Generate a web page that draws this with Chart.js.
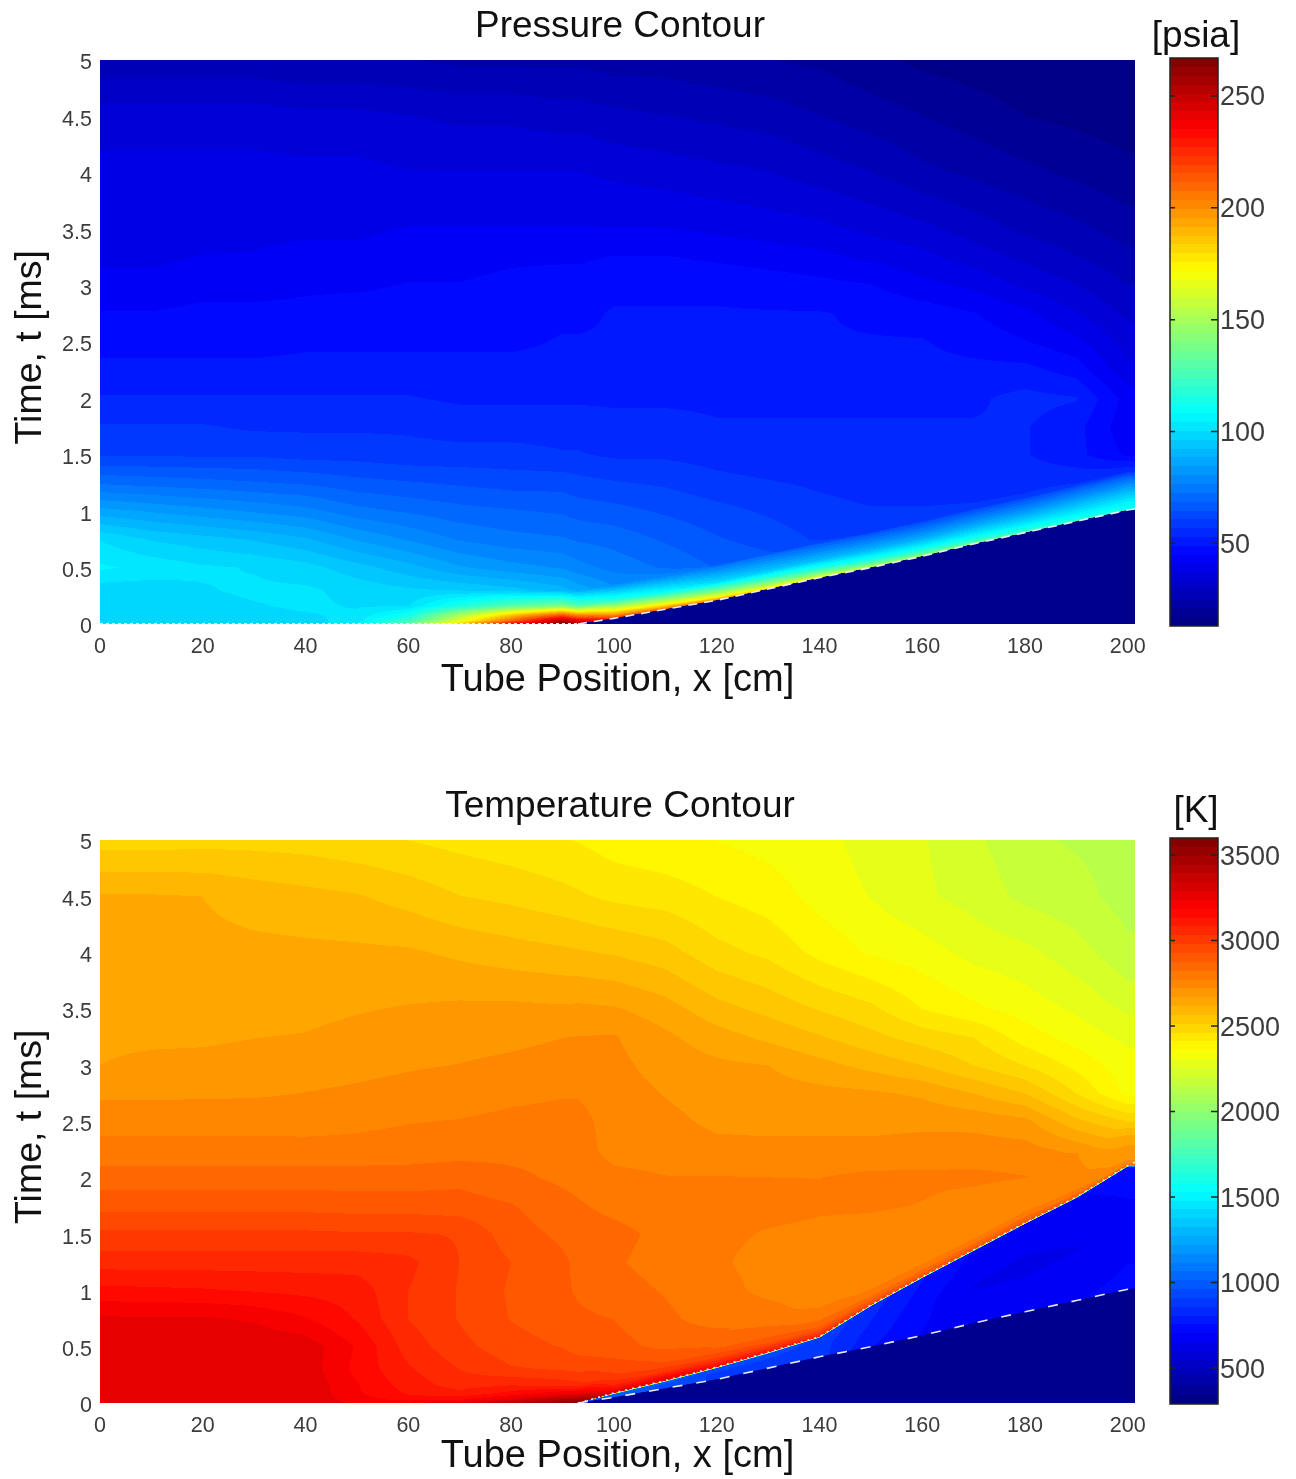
<!DOCTYPE html>
<html><head><meta charset="utf-8">
<style>
html,body{margin:0;padding:0;background:#fff;width:1296px;height:1479px;overflow:hidden}
canvas{position:absolute;filter:blur(0.55px)}
</style>
<script src="https://cdn.jsdelivr.net/npm/chart.js@4/dist/chart.umd.min.js"></script>
</head><body>
<canvas id="c1" style="left:0;top:0"></canvas>
<canvas id="b1" style="left:1096px;top:0"></canvas>
<canvas id="c2" style="left:0;top:780px"></canvas>
<canvas id="b2" style="left:1096px;top:780px"></canvas>
<script>
const xTicks=[0,20,40,60,80,100,120,140,160,180,200];
const tTicks=[0,0.5,1,1.5,2,2.5,3,3.5,4,4.5,5];
const pressureBarTicks=[50,100,150,200,250];
const temperatureBarTicks=[500,1000,1500,2000,2500,3000,3500];

// tube positions of the table columns [cm]
const X=[0,10,20,30,40,50,60,70,80,90,93,100,110,120,130,140,150,160,170,180,190,200];
// lead shock and (temperature) reaction front arrival, t [ms], per column
const shockT=[0,0,0,0,0,0,0,0,0,0,0,.05,.13,.21,.31,.41,.50,.60,.71,.81,.91,1.01];
const frontT=[0,0,0,0,0,0,0,0,0,0,0,.09,.20,.32,.45,.59,.87,1.12,1.36,1.60,1.83,2.11];
// heights above the front [ms] and absolute times [ms] of the table rows
const aboveFront=[.03,.08,.16,.30];
const absTimes=[.5,.75,1,1.25,1.5,1.75,2,2.25,2.5,2.75,3,3.25,3.5,4,4.5,5];

// Pressure [psia]
const pFront=[97,97,97,97,97,105,135,185,235,265,260,225,215,205,185,170,160,150,140,130,125,120];
const pS03=[97,97,98,98,99,102,122,165,210,255,240,200,185,170,155,145,135,128,120,115,112,110];
const pS08=[97,97,98,99,100,101,112,150,185,215,200,165,150,140,128,118,112,108,105,103,103,104];
const pS16=[97,97,99,100,101,100,100,115,130,140,130,118,108,100,95,92,90,88,88,88,90,92];
const pS30=[98,98,100,101,101,99,97,96,94,90,87,80,78,75,72,68,66,64,64,64,66,68];
const pT050=[105,103,101,100,98,94,90,85,82,80,78,75,72,68,65,62,60,60,60,60,62,64];
const pT075=[100,96,94,92,89,84,80,76,74,73,72,71,68,65,63,60,58,58,58,58,60,62];
const pT100=[86,84,82,80,78,74,72,70,69,68,67,66,64,62,60,58,57,57,57,57,58,60];
const pT125=[72,71,70,69,68,66,65,64,63,63,62,61,60,58,57,56,55,55,55,55,56,56];
const pT150=[60,60,60,60,59,59,58,58,58,57,57,56,56,55,54,54,53,53,53,53,50,44];
const pT175=[57,57,57,56,56,56,56,55,55,55,55,54,54,53,53,53,53,53,53,53,50,42];
const pT200=[53,53,53,53,53,53,53,52,52,52,52,52,52,52,52,52,52,52,52,54,53,43];
const pT225=[50,50,50,50,50,50,50,50,50,50,50,50,50,50,50,50,50,50,50,50,47,38];
const pT250=[47,47,47,47,48,48,48,48,48,49,49,49,49,49,49,49,49,49,47,45,42,35];
const pT275=[45,45,46,46,46,47,47,47,48,48,48,49,49,49,49,49,48,47,45,42,37,32];
const pT300=[42,42,43,43,44,44,45,45,46,47,47,48,48,48,47,46,45,42,40,36,33,29];
const pT325=[40,40,41,41,42,42,43,43,44,44,44,45,45,44,43,42,40,38,35,32,29,26];
const pT350=[39,39,39,40,40,40,41,41,41,41,41,41,41,40,39,38,36,34,31,28,26,23];
const pT400=[38,38,38,38,38,38,37,37,37,37,37,36,35,34,33,31,29,26,24,22,20,18];
const pT450=[35,35,35,35,34,34,33,32,32,31,31,30,29,28,27,25,23,21,19,17,16,15];
const pT500=[26,26,26,26,25,25,25,24,24,24,24,23,23,22,21,20,18,16,15,14,14,13];
const pressureRows=[pFront,pS03,pS08,pS16,pS30,pT050,pT075,pT100,pT125,pT150,pT175,pT200,pT225,pT250,pT275,pT300,pT325,pT350,pT400,pT450,pT500];

// Temperature [K]
const tShock=[3280,3280,3280,3280,3280,3230,3230,3280,3420,3560,1000,1000,950,900,900,880,760,700,680,700,700,720];
const tMid=[3280,3280,3280,3280,3280,3230,3230,3280,3420,3560,1000,1000,950,900,900,880,800,720,650,640,650,680];
const tBelow=[3280,3280,3280,3280,3280,3230,3230,3280,3420,3560,1000,1000,1000,950,950,900,830,760,700,680,700,730];
const tFront=[3280,3280,3280,3280,3280,3230,3230,3280,3420,3560,3590,3350,3300,3200,3150,3100,3000,2950,2930,2920,2920,2900];
const tS03=[3280,3280,3280,3280,3280,3210,3170,3180,3280,3450,3480,3170,3180,3100,3050,3000,2900,2880,2870,2860,2810,2730];
const tS08=[3280,3280,3280,3280,3280,3195,3130,3100,3160,3240,3260,3060,3020,2980,2930,2880,2820,2790,2780,2780,2760,2700];
const tS16=[3280,3280,3280,3280,3280,3190,3110,3060,3080,3060,3050,2985,2930,2880,2850,2810,2760,2745,2745,2750,2740,2680];
const tS30=[3280,3280,3280,3280,3270,3170,3090,3030,2985,2975,2965,2930,2865,2830,2800,2755,2735,2732,2742,2748,2732,2600];
const tT050=[3280,3280,3280,3280,3270,3180,3060,2995,2950,2925,2905,2895,2860,2835,2800,2750,2730,2730,2740,2745,2730,2590];
const tT075=[3245,3245,3245,3230,3190,3130,3030,2975,2925,2895,2885,2875,2835,2800,2795,2750,2730,2730,2740,2745,2730,2580];
const tT100=[3150,3145,3140,3130,3120,3110,3031,2975,2920,2885,2870,2845,2820,2790,2760,2745,2730,2730,2740,2745,2730,2570];
const tT125=[3060,3060,3060,3060,3060,3060,3045,2979,2928,2885,2865,2830,2805,2780,2755,2745,2735,2730,2740,2745,2730,2560];
const tT150=[2990,2990,2990,2990,2990,2985,2985,2975,2900,2865,2850,2840,2810,2785,2768,2760,2750,2735,2740,2745,2730,2550];
const tT175=[2910,2910,2910,2910,2910,2905,2905,2900,2880,2840,2830,2810,2795,2790,2790,2780,2780,2770,2745,2748,2730,2540];
const tT200=[2850,2850,2850,2850,2850,2850,2850,2860,2835,2815,2810,2790,2775,2775,2773,2772,2785,2785,2785,2775,2730,2530];
const tT225=[2790,2790,2790,2790,2790,2790,2795,2800,2810,2810,2800,2750,2745,2735,2735,2735,2735,2740,2745,2740,2705,2520];
const tT250=[2755,2755,2755,2755,2752,2760,2770,2775,2785,2790,2790,2750,2735,2710,2705,2705,2705,2710,2705,2685,2580,2513];
const tT275=[2710,2710,2712,2714,2722,2730,2740,2748,2760,2768,2768,2745,2718,2695,2690,2685,2678,2660,2617,2565,2461,2345];
const tT300=[2669,2680,2685,2690,2696,2705,2715,2722,2732,2742,2745,2735,2700,2680,2669,2635,2600,2565,2513,2461,2395,2325];
const tT325=[2660,2660,2660,2668,2672,2685,2695,2702,2708,2720,2722,2725,2680,2640,2605,2570,2530,2490,2461,2385,2335,2295];
const tT350=[2650,2650,2650,2650,2655,2665,2673,2680,2682,2677,2680,2675,2640,2585,2550,2510,2475,2410,2370,2335,2298,2245];
const tT400=[2635,2635,2632,2632,2630,2628,2625,2607,2590,2577,2572,2560,2535,2480,2450,2395,2352,2330,2290,2270,2225,2165];
const tT450=[2622,2622,2617,2595,2582,2570,2545,2515,2500,2478,2470,2450,2437,2410,2385,2340,2305,2265,2235,2190,2170,2130];
const tT500=[2490,2490,2495,2495,2490,2475,2461,2445,2430,2413,2408,2385,2370,2358,2340,2325,2285,2260,2215,2165,2145,2135];
const temperatureRows=[tShock,tMid,tBelow,tFront,tS03,tS08,tS16,tS30,tT050,tT075,tT100,tT125,tT150,tT175,tT200,tT225,tT250,tT275,tT300,tT325,tT350,tT400,tT450,tT500];

const xMax=201.4, shockEnd=1.02, frontEnd=2.14;
const pressureRange=[13,267], temperatureRange=[290,3600];
const FONT='"Liberation Sans", Arial, sans-serif';
const LEVELS=64;

function jet(f){
  const c=v=>Math.round(255*Math.max(0,Math.min(1,v)));
  return [c(Math.min(4*f-1.5,4.5-4*f)),c(Math.min(4*f-.5,3.5-4*f)),c(Math.min(4*f+.5,2.5-4*f))];
}
const jetTable=Array.from({length:LEVELS},(_,l)=>jet((l+.5)/LEVELS));

function meshTimes(front,lower){
  return X.map((_,i)=>{
    const col=[], f=front[i];
    if(lower){ const l=lower[i]; col.push(l,(l+f)/2,Math.max(l,f-.012)); }
    col.push(f);
    aboveFront.forEach(s=>col.push(f+s));
    absTimes.forEach((T,k)=>col.push(Math.max(T,f+.3+.01*(k+1))));
    return col;
  });
}
function contourPlugin(mesh,rows,range){
  return {id:'contour',beforeDatasetsDraw(chart){
    const a=chart.chartArea,sx=chart.scales.x,sy=chart.scales.y;
    const w=Math.round(a.right-a.left),h=Math.round(a.bottom-a.top);
    const off=document.createElement('canvas');off.width=w;off.height=h;
    const oc=off.getContext('2d'),img=oc.createImageData(w,h),d=img.data;
    const nR=rows.length,tA=new Float64Array(nR),vA=new Float64Array(nR);
    for(let px=0;px<w;px++){
      const xv=sx.getValueForPixel(a.left+px+.5);
      let i=0;while(i<X.length-2&&X[i+1]<=xv)i++;
      const u=Math.min(1,(xv-X[i])/(X[i+1]-X[i]));
      for(let j=0;j<nR;j++){
        tA[j]=mesh[i][j]*(1-u)+mesh[i+1][j]*u;
        vA[j]=rows[j][i]*(1-u)+rows[j][i+1]*u;
      }
      for(let py=0;py<h;py++){
        const tv=sy.getValueForPixel(a.top+py+.5);
        let v=range[0];
        if(tv>=tA[0]){
          let j=0;while(j<nR-2&&tA[j+1]<=tv)j++;
          const dt=tA[j+1]-tA[j];
          const q=dt>1e-9?Math.min(1,(tv-tA[j])/dt):1;
          v=vA[j]*(1-q)+vA[j+1]*q;
        }
        const l=Math.max(0,Math.min(LEVELS-1,Math.floor((v-range[0])/(range[1]-range[0])*LEVELS)));
        const c=jetTable[l],o=(py*w+px)*4;
        d[o]=c[0];d[o+1]=c[1];d[o+2]=c[2];d[o+3]=255;
      }
    }
    oc.putImageData(img,0,0);
    chart.ctx.drawImage(off,a.left,a.top);
  }};
}
function linePts(xs,ts,endT){
  const pts=[];
  xs.forEach((x,i)=>{ if(x>=93) pts.push({x,y:ts[i]}); });
  pts.push({x:xMax,y:endT});
  return pts;
}
function spacer(position,width){
  return {type:'linear',position,grid:{display:false,drawTicks:false},border:{display:false},ticks:{display:false},afterFit(s){s.width=width;}};
}
function panel(id,H,bottomFromTop,title,rows,range,mesh,extra){
  const el=document.getElementById(id);el.width=1240;el.height=H;el.style.width='1240px';el.style.height=H+'px';
  const grid=[];
  X.forEach((x,i)=>rows.forEach((r,j)=>grid.push({x,y:mesh[i][j],v:r[i]})));
  return new Chart(el,{
    type:'scatter',
    data:{datasets:[{label:title,data:grid,pointRadius:0,showLine:false},...extra]},
    options:{
      responsive:false,animation:false,events:[],
      layout:{padding:0},
      plugins:{legend:{display:false},tooltip:{enabled:false},
        title:{display:true,text:title,color:'#111',font:{family:FONT,size:37,weight:'normal',lineHeight:1.2},padding:{top:5,bottom:10.6}}},
      scales:{
        x:{type:'linear',min:0,max:xMax,grid:{display:false,drawTicks:false},border:{display:false},
          afterBuildTicks(s){s.ticks=xTicks.map(value=>({value}));},
          afterFit(s){s.height=H-bottomFromTop;},
          ticks:{callback:v=>String(v),maxRotation:0,autoSkip:false,padding:10.5,color:'#3c3c3c',font:{family:FONT,size:21.5}},
          title:{display:true,text:'Tube Position, x [cm]',color:'#111',font:{family:FONT,size:38,weight:'normal',lineHeight:1.2},padding:0}},
        y:{type:'linear',min:0,max:5,grid:{display:false,drawTicks:false},border:{display:false},
          afterBuildTicks(s){s.ticks=tTicks.map(value=>({value}));},
          afterFit(s){s.width=100;},
          ticks:{callback:v=>String(v),autoSkip:false,padding:8,labelOffset:3.5,color:'#3c3c3c',font:{family:FONT,size:21.5}},
          title:{display:true,text:'Time, t [ms] ',color:'#111',font:{family:FONT,size:37.5,weight:'normal',lineHeight:1.2},padding:{top:8,bottom:0}}},
        yRight:spacer('right',105)
      }
    },
    plugins:[contourPlugin(mesh,rows,range)]
  });
}
function colorbar(id,H,pad,title,titlePad,range,ticks){
  const el=document.getElementById(id);el.width=200;el.height=H;el.style.width='200px';el.style.height=H+'px';
  return new Chart(el,{
    type:'bar',
    data:{labels:[title],datasets:[{data:[range],yAxisID:'y',barPercentage:1,categoryPercentage:1,
      backgroundColor(ctx){
        const c=ctx.chart,y=c.scales.y;
        if(!y||!c.chartArea)return '#00f';
        const g=c.ctx.createLinearGradient(0,y.getPixelForValue(range[0]),0,y.getPixelForValue(range[1]));
        jetTable.forEach((col,l)=>{const s=`rgb(${col})`;g.addColorStop(l/LEVELS,s);g.addColorStop((l+1)/LEVELS,s);});
        return g;
      }}]},
    options:{
      responsive:false,animation:false,events:[],
      layout:{padding:{left:0,right:0,top:0,bottom:pad}},
      plugins:{legend:{display:false},tooltip:{enabled:false},
        title:{display:true,text:title,color:'#111',font:{family:FONT,size:37,weight:'normal',lineHeight:1},padding:titlePad}},
      scales:{
        x:{display:false},
        y:{position:'right',min:range[0],max:range[1],grid:{display:false,drawTicks:false},border:{display:false},
          afterBuildTicks(s){s.ticks=ticks.map(value=>({value}));},
          afterFit(s){s.width=78;},
          ticks:{callback:v=>String(v),autoSkip:false,padding:2,labelOffset:2,color:'#3c3c3c',font:{family:FONT,size:27}}},
        yLeft:spacer('left',74)
      }
    },
    plugins:[{id:'barFrame',afterDatasetsDraw(c){
      const a=c.chartArea,x=c.ctx,y=c.scales.y;
      x.save();x.strokeStyle='#222';x.lineWidth=1.5;
      x.strokeRect(a.left,a.top,a.right-a.left,a.bottom-a.top);
      ticks.forEach(v=>{const p=y.getPixelForValue(v);
        x.beginPath();x.moveTo(a.left,p);x.lineTo(a.left+5,p);x.moveTo(a.right-7,p);x.lineTo(a.right,p);x.stroke();});
      x.restore();
    }}]
  });
}
const shockLine=()=>linePts(X,shockT,shockEnd);
const dash={showLine:true,pointRadius:0,borderColor:'rgba(255,255,255,.9)',borderWidth:1.6};
panel('c1',703,624,'Pressure Contour',pressureRows,pressureRange,meshTimes(shockT),[
  {...dash,label:'Shock',data:shockLine(),borderDash:[9,7],fill:'start',backgroundColor:'rgb(0,0,143)'},
  {...dash,label:'Base',data:[{x:0,y:0},{x:xMax,y:0}],borderDash:[3,3],borderWidth:2}
]);
colorbar('b1',701,75,'[psia]',{top:18.5,bottom:2.5},pressureRange,pressureBarTicks);
panel('c2',699,623,'Temperature Contour',temperatureRows,temperatureRange,meshTimes(frontT,shockT),[
  {...dash,label:'Shock',data:shockLine(),borderDash:[10,14],fill:'start',backgroundColor:'rgb(0,0,143)'},
  {...dash,label:'Front',data:linePts(X,frontT,frontEnd),borderDash:[2,5],borderColor:'rgba(255,255,255,.85)',borderWidth:1.6}
]);
colorbar('b2',699,75,'[K]',{top:13.5,bottom:7.5},temperatureRange,temperatureBarTicks);
</script>
</body></html>
